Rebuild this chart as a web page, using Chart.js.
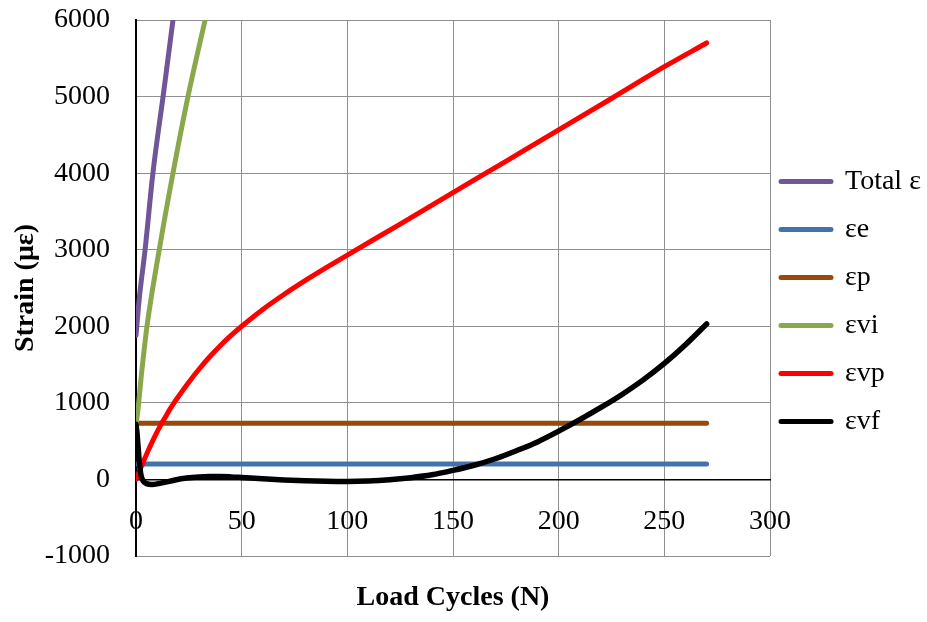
<!DOCTYPE html>
<html>
<head>
<meta charset="utf-8">
<script src="https://cdn.jsdelivr.net/npm/chart.js@4/dist/chart.umd.min.js"></script>
<style>
  html, body { margin: 0; padding: 0; background: #ffffff; }
  #wrap { width: 927px; height: 622px; position: relative; }
</style>
</head>
<body>
<div id="wrap"><canvas id="strainChart"></canvas></div>
<script>
// Strain components versus load cycles
const seriesNames = ['Total \u03b5', '\u03b5e', '\u03b5p', '\u03b5vi', '\u03b5vp', '\u03b5vf'];
const seriesColors = ['#6f5696', '#4672aa', '#984a0c', '#8aa84b', '#ff0000', '#000000'];

const totalN      = [0, 1.5, 4.3, 8, 12.8, 17.5, 19];
const totalStrain = [1880, 2350, 3000, 4000, 5000, 6000, 6350];

const elasticN      = [0, 270];
const elasticStrain = [200, 200];

const plasticN      = [0, 270];
const plasticStrain = [735, 735];

const viscoElasticN      = [0, 1, 2.5, 5.2, 11, 17.5, 24.6, 32.7, 35];
const viscoElasticStrain = [710, 930, 1350, 2000, 3000, 4000, 5000, 6000, 6280];

const viscoPlasticN      = [0, 2, 4, 6, 8, 10, 12, 14, 16, 18, 20, 25, 30, 35, 40, 45, 50, 60, 70, 80, 90, 100, 125, 150, 175, 200, 225, 250, 270];
const viscoPlasticStrain = [0, 135, 265, 390, 510, 620, 725, 820, 915, 1000, 1080, 1270, 1445, 1605, 1750, 1880, 2000, 2220, 2415, 2595, 2765, 2930, 3335, 3745, 4155, 4565, 4975, 5390, 5700];

const viscoFlowN      = [0, 0.5, 1, 1.5, 2, 2.5, 3.5, 5, 7.5, 10, 14, 18, 24, 30, 35, 40, 45, 50, 60, 70, 80, 90, 100, 110, 120, 130, 140, 150, 160, 170, 180, 190, 200, 210, 220, 230, 240, 250, 260, 270];
const viscoFlowStrain = [720, 600, 420, 250, 120, 40, -25, -55, -65, -58, -35, -10, 18, 32, 37, 38, 33, 25, 8, -6, -17, -25, -28, -22, -5, 22, 60, 118, 185, 270, 375, 490, 630, 780, 940, 1110, 1300, 1515, 1760, 2030];

const xTicks = [0, 50, 100, 150, 200, 250, 300];
const yTicks = [-1000, 0, 1000, 2000, 3000, 4000, 5000, 6000];

const seriesX = [totalN, elasticN, plasticN, viscoElasticN, viscoPlasticN, viscoFlowN];
const seriesY = [totalStrain, elasticStrain, plasticStrain, viscoElasticStrain, viscoPlasticStrain, viscoFlowStrain];

const FONT = 'Liberation Serif, Times New Roman, serif';
const GRID = '#8f8f8f';

const datasets = seriesNames.map((name, i) => ({
  label: name,
  data: seriesX[i].map((n, k) => ({ x: n, y: seriesY[i][k] })),
  borderColor: seriesColors[i],
  backgroundColor: seriesColors[i],
  borderWidth: i === 5 ? 5.5 : 5,
  borderCapStyle: 'round',
  borderJoinStyle: 'round',
  pointRadius: 0,
  pointHoverRadius: 0,
  cubicInterpolationMode: 'monotone',
  fill: false,
  order: seriesNames.length - i
}));

new Chart(document.getElementById('strainChart'), {
  type: 'line',
  data: { datasets },
  options: {
    responsive: true,
    maintainAspectRatio: false,
    animation: false,
    layout: { padding: { top: 0, left: 0, right: 0, bottom: 10 } },
    plugins: {
      tooltip: { enabled: false },
      legend: {
        position: 'right',
        maxWidth: 157,
        labels: {
          usePointStyle: true,
          pointStyleWidth: 50,
          boxHeight: 5,
          padding: 11,
          color: '#000000',
          font: { family: FONT, size: 28, lineHeight: 37 / 28 },
          generateLabels(chart) {
            return chart.data.datasets.map((ds, i) => ({
              text: [ds.label],
              fillStyle: ds.borderColor,
              strokeStyle: ds.borderColor,
              lineWidth: 5,
              lineCap: 'round',
              pointStyle: 'line',
              hidden: false,
              datasetIndex: i
            }));
          }
        }
      }
    },
    scales: {
      x: {
        type: 'linear',
        position: { y: 0 },
        min: 0,
        max: 300,
        afterFit(scale) { scale.height = 0; },
        afterBuildTicks(scale) { scale.ticks = xTicks.map(v => ({ value: v })); },
        ticks: {
          padding: 25,
          color: '#000000',
          font: { family: FONT, size: 28 },
          callback: v => String(v),
          maxRotation: 0
        },
        grid: {
          drawTicks: false,
          lineWidth: 1,
          color: ctx => (ctx.tick && ctx.tick.value === 0 ? 'rgba(0,0,0,0)' : GRID)
        },
        border: { display: true, color: '#000000', width: 1.5 }
      },
      xTitle: {
        type: 'linear',
        position: 'bottom',
        min: 0,
        max: 300,
        ticks: { display: false },
        grid: { display: false, drawTicks: false },
        border: { display: false },
        title: {
          display: true,
          text: 'Load Cycles (N)',
          color: '#000000',
          font: { family: FONT, size: 28, weight: 'bold', lineHeight: 1 },
          padding: { top: 28, bottom: 0 }
        }
      },
      y: {
        type: 'linear',
        position: 'left',
        min: -1000,
        max: 6000,
        afterFit(scale) {
          scale.width = 136;
          scale.paddingTop = 20;
          scale.paddingBottom = 20;
        },
        afterBuildTicks(scale) { scale.ticks = yTicks.map(v => ({ value: v })); },
        ticks: {
          padding: 26,
          color: '#000000',
          font: { family: FONT, size: 28 },
          callback: v => String(v)
        },
        grid: {
          drawTicks: false,
          lineWidth: 1,
          color: ctx => (ctx.tick && ctx.tick.value === 0 ? 'rgba(0,0,0,0)' : GRID)
        },
        border: { display: true, color: '#000000', width: 2 },
        title: {
          display: true,
          text: 'Strain (\u03bc\u03b5)',
          color: '#000000',
          font: { family: FONT, size: 28, weight: 'bold' },
          padding: { top: 9, bottom: 0 }
        }
      }
    }
  }
});
</script>
</body>
</html>
